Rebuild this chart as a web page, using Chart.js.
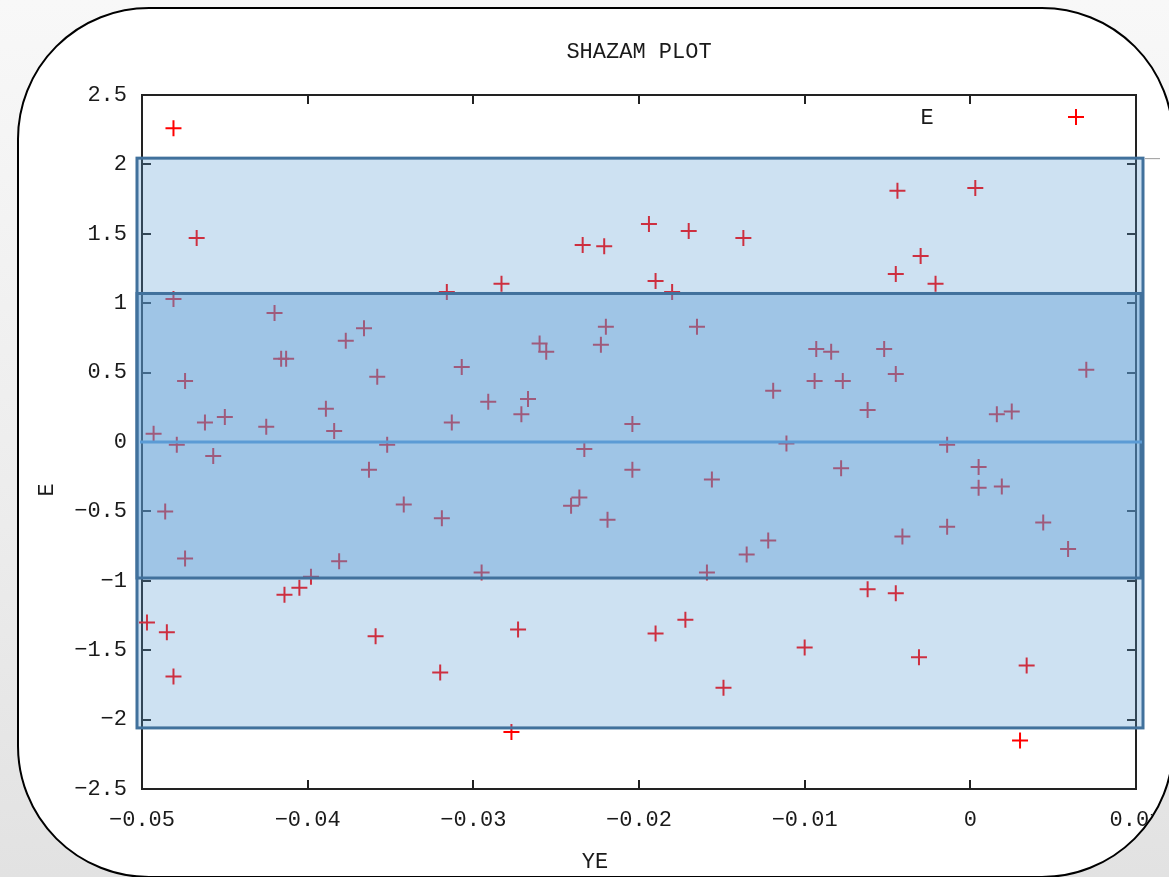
<!DOCTYPE html>
<html>
<head>
<meta charset="utf-8">
<script src="https://cdn.jsdelivr.net/npm/chart.js@4.4.1/dist/chart.umd.min.js"></script>
<style>
  html, body { margin: 0; padding: 0; }
  body {
    width: 1169px; height: 877px; overflow: hidden; position: relative;
    background: linear-gradient(180deg, #f8f8f8 0%, #ececec 60%, #e2e2e2 100%);
  }
  #card {
    position: absolute; left: 17px; top: 7px; width: 1157px; height: 871px;
    box-sizing: border-box; border: 2px solid #000; border-radius: 132px;
    background: #fff; overflow: hidden;
  }
  #myChart { position: absolute; left: -19px; top: -9px; }
</style>
</head>
<body>
<div id="card"><canvas id="myChart" width="1169" height="877"></canvas></div>
<script>
// values
const xs = [-0.0481, -0.0467, -0.0316, -0.0481, -0.0420, -0.0366, -0.0377, -0.0416, -0.0413, -0.0307,
    -0.0358, -0.0474, -0.0389, -0.0462, -0.0450, -0.0425, -0.0384, -0.0313, -0.0493, -0.0479,
    -0.0352, -0.0457, -0.0363, -0.0486, -0.0342, -0.0319, -0.0474, -0.0381, -0.0398, -0.0405,
    -0.0414, -0.0497, -0.0485, -0.0359, -0.0481, -0.0320, -0.0295, -0.0283, -0.0234, -0.0221,
    -0.0194, -0.0170, -0.0137, -0.0190, -0.0180, -0.0220, -0.0165, -0.0223, -0.0260, -0.0256,
    -0.0291, -0.0267, -0.0271, -0.0204, -0.0119, -0.0233, -0.0111, -0.0204, -0.0156, -0.0236,
    -0.0241, -0.0219, -0.0122, -0.0135, -0.0159, -0.0273, -0.0190, -0.0172, -0.0100, -0.0149,
    -0.0277, -0.0044, 0.0003, -0.0030, -0.0045, -0.0021, -0.0093, -0.0084, -0.0052, -0.0045,
    -0.0094, -0.0077, 0.0070, -0.0062, 0.0016, 0.0025, -0.0014, -0.0078, 0.0005, 0.0005,
    0.0019, -0.0041, -0.0014, 0.0044, 0.0059, -0.0062, -0.0045, -0.0031, 0.0034, 0.0030];
const ys = [2.26, 1.47, 1.08, 1.03, 0.93, 0.82, 0.73, 0.60, 0.60, 0.54,
    0.47, 0.44, 0.24, 0.14, 0.18, 0.11, 0.08, 0.14, 0.06, -0.02,
    -0.02, -0.10, -0.20, -0.50, -0.45, -0.55, -0.84, -0.86, -0.97, -1.05,
    -1.10, -1.30, -1.37, -1.40, -1.69, -1.66, -0.94, 1.14, 1.42, 1.41,
    1.57, 1.52, 1.47, 1.16, 1.08, 0.83, 0.83, 0.70, 0.71, 0.65,
    0.29, 0.31, 0.20, 0.13, 0.37, -0.05, -0.01, -0.20, -0.27, -0.40,
    -0.46, -0.56, -0.71, -0.81, -0.94, -1.35, -1.38, -1.28, -1.48, -1.77,
    -2.09, 1.81, 1.83, 1.34, 1.21, 1.14, 0.67, 0.65, 0.67, 0.49,
    0.44, 0.44, 0.52, 0.23, 0.20, 0.22, -0.02, -0.19, -0.18, -0.33,
    -0.32, -0.68, -0.61, -0.58, -0.77, -1.06, -1.09, -1.55, -1.61, -2.15];

const xTickLabels = ["\u22120.05", "\u22120.04", "\u22120.03", "\u22120.02", "\u22120.01", "0", "0.01"];
const yTickLabels = ["\u22122.5", "\u22122", "\u22121.5", "\u22121", "\u22120.5", "0", "0.5", "1", "1.5", "2", "2.5"];

// shaded bands (E values)
const outerBand = [-2.06, 2.045];
const innerBand = [-0.98, 1.07];
const centerLine = 0;

const FONT = '"Liberation Mono", "DejaVu Sans Mono", monospace';
Chart.defaults.font.family = FONT;
Chart.defaults.font.size = 22;
Chart.defaults.color = "#1a1a1a";

let puntos = [];
for (let i = 0; i < xs.length; i++) {
    puntos[i] = { x: xs[i], y: ys[i] };
}

const plus = (ctx, cx, cy) => {
    ctx.beginPath();
    ctx.moveTo(cx - 8, cy); ctx.lineTo(cx + 8, cy);
    ctx.moveTo(cx, cy - 8); ctx.lineTo(cx, cy + 8);
    ctx.stroke();
};

const gnuplotBits = {
    id: "gnuplotBits",
    beforeDatasetsDraw(chart) {
        const { ctx, chartArea: a, scales: { x, y } } = chart;
        ctx.save();
        ctx.strokeStyle = "#222";
        ctx.lineWidth = 2;
        ctx.strokeRect(a.left, a.top, a.right - a.left, a.bottom - a.top);
        // inward ticks on all four sides
        ctx.beginPath();
        x.ticks.forEach((t) => {
            if (t.value <= x.min + 1e-9 || t.value >= x.max - 1e-9) return;
            const px = Math.round(x.getPixelForValue(t.value));
            ctx.moveTo(px, a.top); ctx.lineTo(px, a.top + 9);
            ctx.moveTo(px, a.bottom); ctx.lineTo(px, a.bottom - 9);
        });
        y.ticks.forEach((t) => {
            if (t.value <= y.min + 1e-9 || t.value >= y.max - 1e-9) return;
            const py = Math.round(y.getPixelForValue(t.value));
            ctx.moveTo(a.left, py); ctx.lineTo(a.left + 9, py);
            ctx.moveTo(a.right, py); ctx.lineTo(a.right - 9, py);
        });
        ctx.stroke();
        ctx.restore();
    },
    afterDatasetsDraw(chart) {
        const { ctx, chartArea: a, scales: { y } } = chart;
        ctx.save();
        const band = (vals, l, r, alpha) => {
            const top = y.getPixelForValue(vals[1]);
            const bot = y.getPixelForValue(vals[0]);
            ctx.fillStyle = "rgba(91, 155, 213, " + alpha + ")";
            ctx.fillRect(l, top, r - l, bot - top);
            ctx.strokeStyle = "#41719c";
            ctx.lineWidth = 3;
            ctx.strokeRect(l, top, r - l, bot - top);
        };
        band(outerBand, a.left - 5, a.right + 7, 0.3);
        band(innerBand, a.left - 5, a.right + 5, 0.4);

        const y0 = y.getPixelForValue(centerLine);
        ctx.strokeStyle = "#5b9bd5";
        ctx.lineWidth = 3;
        ctx.beginPath();
        ctx.moveTo(a.left - 2, y0); ctx.lineTo(a.right + 6, y0);
        ctx.stroke();

        const yTop = y.getPixelForValue(outerBand[1]);
        ctx.strokeStyle = "#9a9a9a";
        ctx.lineWidth = 1;
        ctx.beginPath();
        ctx.moveTo(a.right + 9, yTop + 0.5); ctx.lineTo(a.right + 24, yTop + 0.5);
        ctx.stroke();

        // key
        ctx.font = "22px " + FONT;
        ctx.fillStyle = "#1a1a1a";
        ctx.textAlign = "center";
        ctx.textBaseline = "middle";
        ctx.fillText("E", a.right - 209, a.top + 23);
        ctx.strokeStyle = "#ff0000";
        ctx.lineWidth = 2;
        plus(ctx, a.right - 60, a.top + 22);

        // axis titles
        ctx.fillText("YE", 595, 862);
        ctx.translate(47, 490);
        ctx.rotate(-Math.PI / 2);
        ctx.fillText("E", 0, 0);
        ctx.restore();
    }
};

const data = {
    datasets: [
        {
            label: "E",
            data: puntos,
            pointStyle: "cross",
            pointRadius: 8,
            pointHoverRadius: 8,
            pointBorderWidth: 2,
            pointBorderColor: "#ff0000",
            pointBackgroundColor: "#ff0000",
            clip: false,
        },
    ],
};

const config = {
    type: "scatter",
    data: data,
    options: {
        responsive: false,
        animation: false,
        events: [],
        layout: { padding: { left: 0, right: 33, top: 0, bottom: 0 } },
        plugins: {
            legend: { display: false },
            tooltip: { enabled: false },
            title: {
                display: true,
                fullSize: false,
                text: "SHAZAM PLOT",
                color: "#1a1a1a",
                font: { size: 22, weight: "normal" },
                padding: { top: 39, bottom: 29.6 },
            },
        },
        scales: {
            x: {
                type: "linear",
                min: -0.05,
                max: 0.01,
                afterFit: (s) => {
                    s.height = 88;
                    s.paddingLeft = 0;
                    s.paddingRight = 0;
                },
                grid: { display: false, drawTicks: false },
                border: { display: false },
                ticks: {
                    stepSize: 0.01,
                    padding: 18,
                    maxRotation: 0,
                    autoSkip: false,
                    callback: (v, i) => xTickLabels[i],
                },
            },
            y: {
                type: "linear",
                min: -2.5,
                max: 2.5,
                afterFit: (s) => { s.width = 142; },
                grid: { display: false, drawTicks: false },
                border: { display: false },
                ticks: {
                    stepSize: 0.5,
                    padding: 15,
                    autoSkip: false,
                    callback: (v, i) => yTickLabels[i],
                },
            },
        },
    },
    plugins: [gnuplotBits],
};

const myChart = new Chart(document.getElementById("myChart"), config);
</script>
</body>
</html>
